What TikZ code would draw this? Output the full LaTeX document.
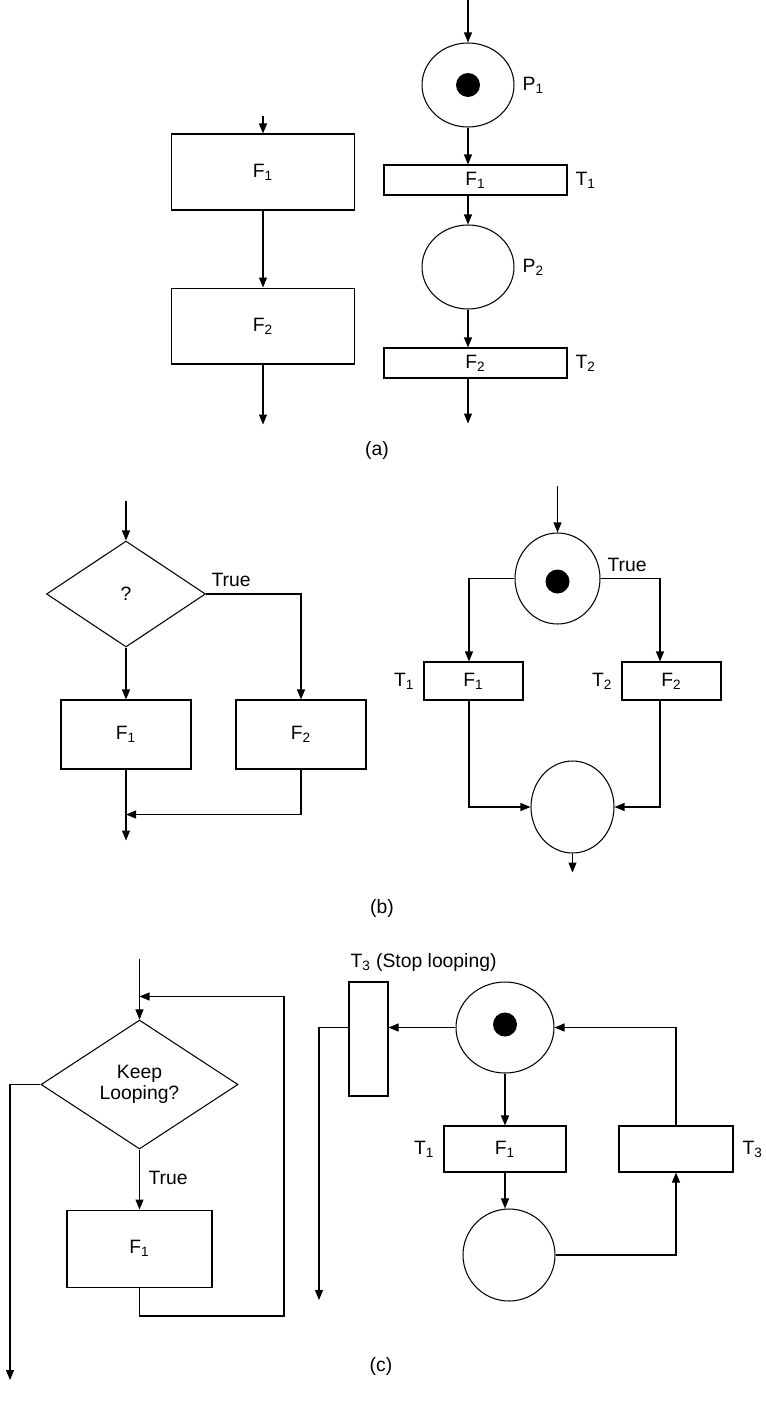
\documentclass[tikz,border=0pt]{standalone}
\usepackage{fontspec}
\setmainfont{Liberation Sans}
\usetikzlibrary{arrows.meta,positioning,calc,shapes.geometric}
\tikzset{
  flowbox/.style 2 args={draw, line width=0.6pt, minimum width=#1, minimum height=#2,
    inner sep=0pt, align=center},
  decision/.style 2 args={diamond, draw, line width=0.6pt, minimum width=#1, minimum height=#2,
    inner sep=0pt, align=center},
  place/.style 2 args={ellipse, draw, line width=0.6pt, minimum width=#1, minimum height=#2,
    inner sep=0pt},
  tokendot/.style={circle, fill=black, minimum size=0.48cm, inner sep=0pt},
  flowarr/.style={-{Triangle[length=2mm, width=1.6mm]}, line width=0.6pt},
  flowline/.style={line width=0.6pt},
  tlabel/.style={inner sep=1pt},
}

\begin{document}
\begin{tikzpicture}[x=0.02cm, y=-0.02cm, every node/.style={font=\fontsize{11pt}{12pt}\selectfont}]
  \useasboundingbox (0,0) rectangle (765,1419);

  % ---- (a) sequence ----
  \node[flowbox={3.66cm}{1.52cm}] (af1) at (263,172) {F\textsubscript{1}};
  \node[flowbox={3.66cm}{1.52cm}, below=1.54cm of af1] (af2) {F\textsubscript{2}};
  \coordinate[above=0.34cm of af1] (ain);
  \coordinate[below=1.2cm of af2] (aout);
  \draw[flowarr] (ain) -- (af1);
  \draw[flowarr] (af1) -- (af2);
  \draw[flowarr] (af2) -- (aout);

  \node[place={1.84cm}{1.68cm}] (ap1) at (468,85) {};
  \node[tokendot] (ap1tok) at (ap1) {};
  \node[tlabel, right=0.12cm of ap1] (ap1lab) {P\textsubscript{1}};
  \node[flowbox={3.66cm}{0.6cm}] (at1) at (475.5,180) {F\textsubscript{1}};
  \node[tlabel, right=0.12cm of at1] (at1lab) {T\textsubscript{1}};
  \node[place={1.84cm}{1.68cm}] (ap2) at (468,267) {};
  \node[tlabel, right=0.12cm of ap2] (ap2lab) {P\textsubscript{2}};
  \node[flowbox={3.66cm}{0.6cm}] (at2) at (475.5,363) {F\textsubscript{2}};
  \node[tlabel, right=0.12cm of at2] (at2lab) {T\textsubscript{2}};
  \coordinate (apin) at (468,0);
  \coordinate[below=0.9cm of ap2.south |- at2.south] (apout);
  \draw[flowarr] (apin) -- (ap1);
  \draw[flowarr] (ap1.south) -- (ap1.south |- at1.north);
  \draw[flowarr] (ap2.north |- at1.south) -- (ap2.north);
  \draw[flowarr] (ap2.south) -- (ap2.south |- at2.north);
  \draw[flowarr] (ap2.south |- at2.south) -- (apout);
  \node (acap) at (377,450) {(a)};

  % ---- (b) choice ----
  \node[decision={3.18cm}{2.12cm}] (bq) at (126,594) {?};
  \node[flowbox={2.6cm}{1.38cm}] (bf1) at (126,734.5) {F\textsubscript{1}};
  \node[flowbox={2.6cm}{1.38cm}] (bf2) at (301,734.5) {F\textsubscript{2}};
  \node[tlabel, anchor=south west] (btrue) at ([xshift=0.07cm, yshift=0.1cm]bq.east) {True};
  \coordinate[above=0.78cm of bq] (bin);
  \coordinate[below=0.9cm of bf1] (bjoin);
  \coordinate[below=1.42cm of bf1] (bout);
  \draw[flowarr] (bin) -- (bq);
  \draw[flowarr] (bq) -- (bf1);
  \draw[flowarr] (bq.east) -| (bf2.north);
  \draw[flowarr] (bf1) -- (bout);
  \draw[flowarr] (bf2.south) |- (bjoin);

  \node[place={1.7cm}{1.82cm}] (bp0) at (557.5,578.5) {};
  \node[tokendot] (bp0tok) at ([yshift=-0.06cm]bp0) {};
  \node[tlabel, anchor=south west] (btrue2) at ([xshift=0.1cm, yshift=0.1cm]bp0.east) {True};
  \node[flowbox={1.98cm}{0.76cm}] (bt1) at (473.5,681) {F\textsubscript{1}};
  \node[flowbox={1.98cm}{0.76cm}] (bt2) at (671.5,681) {F\textsubscript{2}};
  \node[tlabel, left=0.14cm of bt1] (bt1lab) {T\textsubscript{1}};
  \node[tlabel, left=0.14cm of bt2] (bt2lab) {T\textsubscript{2}};
  \node[place={1.66cm}{1.84cm}] (bp1) at (572.5,807) {};
  \coordinate[above=0.92cm of bp0] (bpin);
  \coordinate[below=0.38cm of bp1] (bpout);
  \draw[flowarr] (bpin) -- (bp0);
  \draw[flowarr] (bp0.west) -| ([xshift=-0.09cm]bt1.north);
  \draw[flowarr] (bp0.east) -| ([xshift=-0.23cm]bt2.north);
  \draw[flowarr] ([xshift=-0.09cm]bt1.south) |- (bp1.west);
  \draw[flowarr] ([xshift=-0.23cm]bt2.south) |- (bp1.east);
  \draw[flowarr] (bp1) -- (bpout);
  \node (bcap) at (382,908) {(b)};

  % ---- (c) loop ----
  \node[decision={3.94cm}{2.58cm}] (cq) at (139.5,1084.5) {Keep\\Looping?};
  \node[flowbox={2.9cm}{1.54cm}, below=1.2cm of cq] (cf1) {F\textsubscript{1}};
  \node[tlabel, anchor=west] (ctrue) at ([xshift=0.14cm, yshift=0.04cm]$(cq.south)!0.5!(cf1.north)$) {True};
  \coordinate[above=1.22cm of cq] (cin);
  \coordinate[above=0.46cm of cq] (cjoin);
  \coordinate (cturn) at (284,1316);
  \coordinate (cexit) at (10,1380);
  \draw[flowarr] (cin) -- (cq);
  \draw[flowarr] (cq) -- (cf1);
  \draw[flowarr] (cf1.south) |- (cturn) |- (cjoin);
  \draw[flowarr] (cq.west) -| (cexit);

  \node[place={1.96cm}{1.82cm}] (cp0) at (505,1027.5) {};
  \node[tokendot] (cp0tok) at ([yshift=0.06cm]cp0) {};
  \node[flowbox={0.78cm}{2.28cm}] (cts) at (368.5,1039) {};
  \node[tlabel, anchor=south west] (ctslab) at ([yshift=0.16cm]cts.north west) {T\textsubscript{3} (Stop looping)};
  \node[flowbox={2.44cm}{0.92cm}] (ct1) at (505,1149) {F\textsubscript{1}};
  \node[flowbox={2.28cm}{0.92cm}] (ct3) at (676,1149) {};
  \node[tlabel, left=0.14cm of ct1] (ct1lab) {T\textsubscript{1}};
  \node[tlabel, right=0.14cm of ct3] (ct3lab) {T\textsubscript{3}};
  \node[place={1.84cm}{1.84cm}] (cp1) at (509,1255) {};
  \coordinate (cpexit) at (319,1300);
  \draw[flowarr] (cp0.west) -- (cp0.west -| cts.east);
  \draw[flowarr] (cp0.west -| cts.west) -| (cpexit);
  \draw[flowarr] (cp0) -- (ct1);
  \draw[flowarr] (ct3.north) |- (cp0.east);
  \draw[flowarr] (ct1.south) -- (ct1.south |- cp1.north);
  \draw[flowarr] (cp1.east) -| (ct3.south);
  \node (ccap) at (381,1366) {(c)};
\end{tikzpicture}
\end{document}
